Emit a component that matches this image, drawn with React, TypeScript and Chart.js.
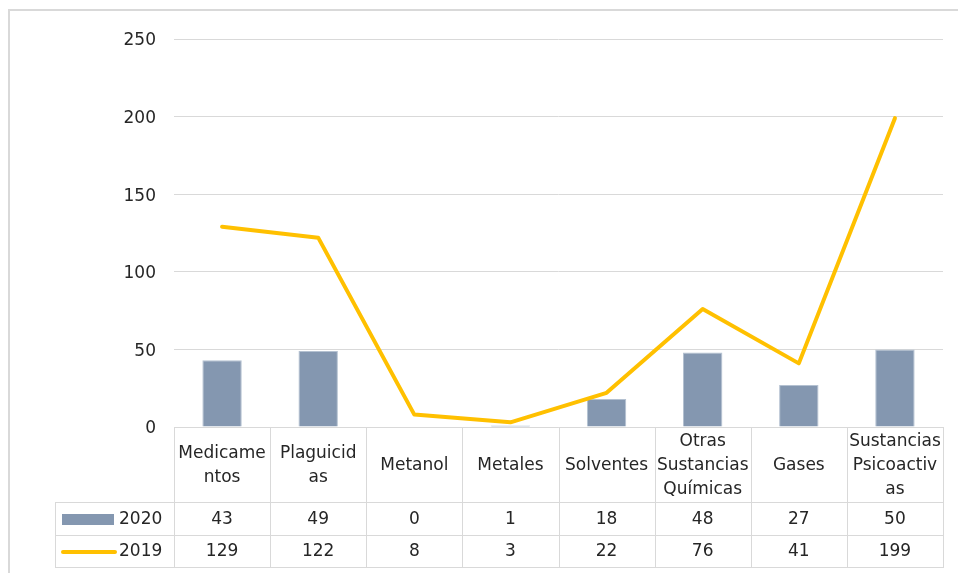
import React, { useEffect, useRef } from "react";
import { Chart, registerables } from "chart.js";

Chart.register(...registerables);

// Category labels (wrapped as in the reference table header)
const categories: string[][] = [
  ["Medicame", "ntos"],
  ["Plaguicid", "as"],
  ["Metanol"],
  ["Metales"],
  ["Solventes"],
  ["Otras", "Sustancias", "Químicas"],
  ["Gases"],
  ["Sustancias", "Psicoactiv", "as"],
];
const seriesNames = ["2020", "2019"];
const values2020 = [43, 49, 0, 1, 18, 48, 27, 50];
const values2019 = [129, 122, 8, 3, 22, 76, 41, 199];
const yMin = 0;
const yMax = 250;
const yStep = 50;

const BAR_COLOR = "#8497B0";
const LINE_COLOR = "#FFC000";
const GRID_COLOR = "#d9d9d9";
const TEXT_COLOR = "#262626";
const FONT_FAMILY = "'DejaVu Sans', sans-serif";
const FONT_SIZE = 17;

const tablePlugin = {
  id: "dataTable",
  afterDraw(chart: any) {
    const ctx: CanvasRenderingContext2D = chart.ctx;
    const area = chart.chartArea;
    const xs = chart.scales.x;
    const n = categories.length;
    const half = (xs.getPixelForValue(1) - xs.getPixelForValue(0)) / 2;
    const top = Math.round(area.bottom);
    const hdrBottom = top + 75;
    const row1Bottom = hdrBottom + 33;
    const row2Bottom = row1Bottom + 32;
    const legendLeft = 55;

    ctx.save();
    // outer frame
    ctx.strokeStyle = "#d9d9d9";
    ctx.lineWidth = 2;
    ctx.beginPath();
    ctx.moveTo(9, chart.height + 5);
    ctx.lineTo(9, 10);
    ctx.lineTo(chart.width + 5, 10);
    ctx.stroke();

    ctx.strokeStyle = GRID_COLOR;
    ctx.lineWidth = 1;
    const hline = (x1: number, x2: number, y: number) => {
      ctx.beginPath();
      ctx.moveTo(x1, y + 0.5);
      ctx.lineTo(x2, y + 0.5);
      ctx.stroke();
    };
    const vline = (x: number, y1: number, y2: number) => {
      ctx.beginPath();
      ctx.moveTo(Math.round(x) + 0.5, y1);
      ctx.lineTo(Math.round(x) + 0.5, y2);
      ctx.stroke();
    };
    hline(area.left, area.right, top);
    hline(legendLeft, area.right, hdrBottom);
    hline(legendLeft, area.right, row1Bottom);
    hline(legendLeft, area.right, row2Bottom);
    for (let i = 0; i <= n; i++) {
      const bx = i < n ? xs.getPixelForValue(i) - half : xs.getPixelForValue(n - 1) + half;
      vline(bx, top, row2Bottom + 1);
    }
    vline(legendLeft, hdrBottom, row2Bottom + 1);

    ctx.fillStyle = TEXT_COLOR;
    ctx.font = `${FONT_SIZE}px ${FONT_FAMILY}`;
    ctx.textAlign = "center";
    ctx.textBaseline = "middle";
    const lh = 24;
    const hdrMid = (top + hdrBottom) / 2;
    const r1Mid = (hdrBottom + row1Bottom) / 2 + 1;
    const r2Mid = (row1Bottom + row2Bottom) / 2 + 1;
    categories.forEach((lines, i) => {
      const cx = xs.getPixelForValue(i);
      const start = hdrMid - ((lines.length - 1) * lh) / 2;
      lines.forEach((t, k) => ctx.fillText(t, cx, start + k * lh + 1));
      ctx.fillText(String(values2020[i]), cx, r1Mid);
      ctx.fillText(String(values2019[i]), cx, r2Mid);
    });

    // legend keys
    ctx.fillStyle = BAR_COLOR;
    ctx.fillRect(62, Math.round(r1Mid) - 6, 52, 11);
    ctx.strokeStyle = LINE_COLOR;
    ctx.lineWidth = 4;
    ctx.lineCap = "round";
    ctx.beginPath();
    ctx.moveTo(63, r2Mid);
    ctx.lineTo(115, r2Mid);
    ctx.stroke();
    ctx.fillStyle = TEXT_COLOR;
    ctx.textAlign = "left";
    ctx.fillText(seriesNames[0], 119, r1Mid);
    ctx.fillText(seriesNames[1], 119, r2Mid);
    ctx.restore();
  },
};

export default function App() {
  const ref = useRef<HTMLCanvasElement | null>(null);
  useEffect(() => {
    if (!ref.current) return;
    const chart = new Chart(ref.current, {
      type: "bar",
      data: {
        labels: categories.map((c) => c.join("")),
        datasets: [
          {
            type: "line",
            label: seriesNames[1],
            data: values2019,
            borderColor: LINE_COLOR,
            backgroundColor: LINE_COLOR,
            borderWidth: 4,
            pointRadius: 0,
            tension: 0,
            borderCapStyle: "round",
            borderJoinStyle: "round",
            order: 0,
          } as any,
          {
            type: "bar",
            label: seriesNames[0],
            data: values2020,
            backgroundColor: BAR_COLOR,
            borderColor: "#b4c1d1",
            borderWidth: 1,
            barPercentage: 0.41,
            categoryPercentage: 1,
            order: 1,
          } as any,
        ],
      },
      options: {
        responsive: false,
        animation: false,
        layout: { padding: { left: 0, right: 15, top: 39, bottom: 146 } },
        plugins: { legend: { display: false }, tooltip: { enabled: false } },
        scales: {
          x: { display: false },
          y: {
            min: yMin,
            max: yMax,
            ticks: {
              stepSize: yStep,
              padding: 18,
              labelOffset: 2,
              color: TEXT_COLOR,
              font: { family: FONT_FAMILY, size: FONT_SIZE },
            },
            grid: { color: GRID_COLOR, drawTicks: false, lineWidth: 1 },
            border: { display: false },
            afterFit: (scale: any) => {
              scale.width = 174;
            },
          },
        },
      },
      plugins: [tablePlugin],
    });
    return () => chart.destroy();
  }, []);
  return (
    <div style={{ position: "absolute", left: 0, top: 0, width: 958, height: 573, background: "#fff" }}>
      <canvas ref={ref} width={958} height={573} />
    </div>
  );
}
